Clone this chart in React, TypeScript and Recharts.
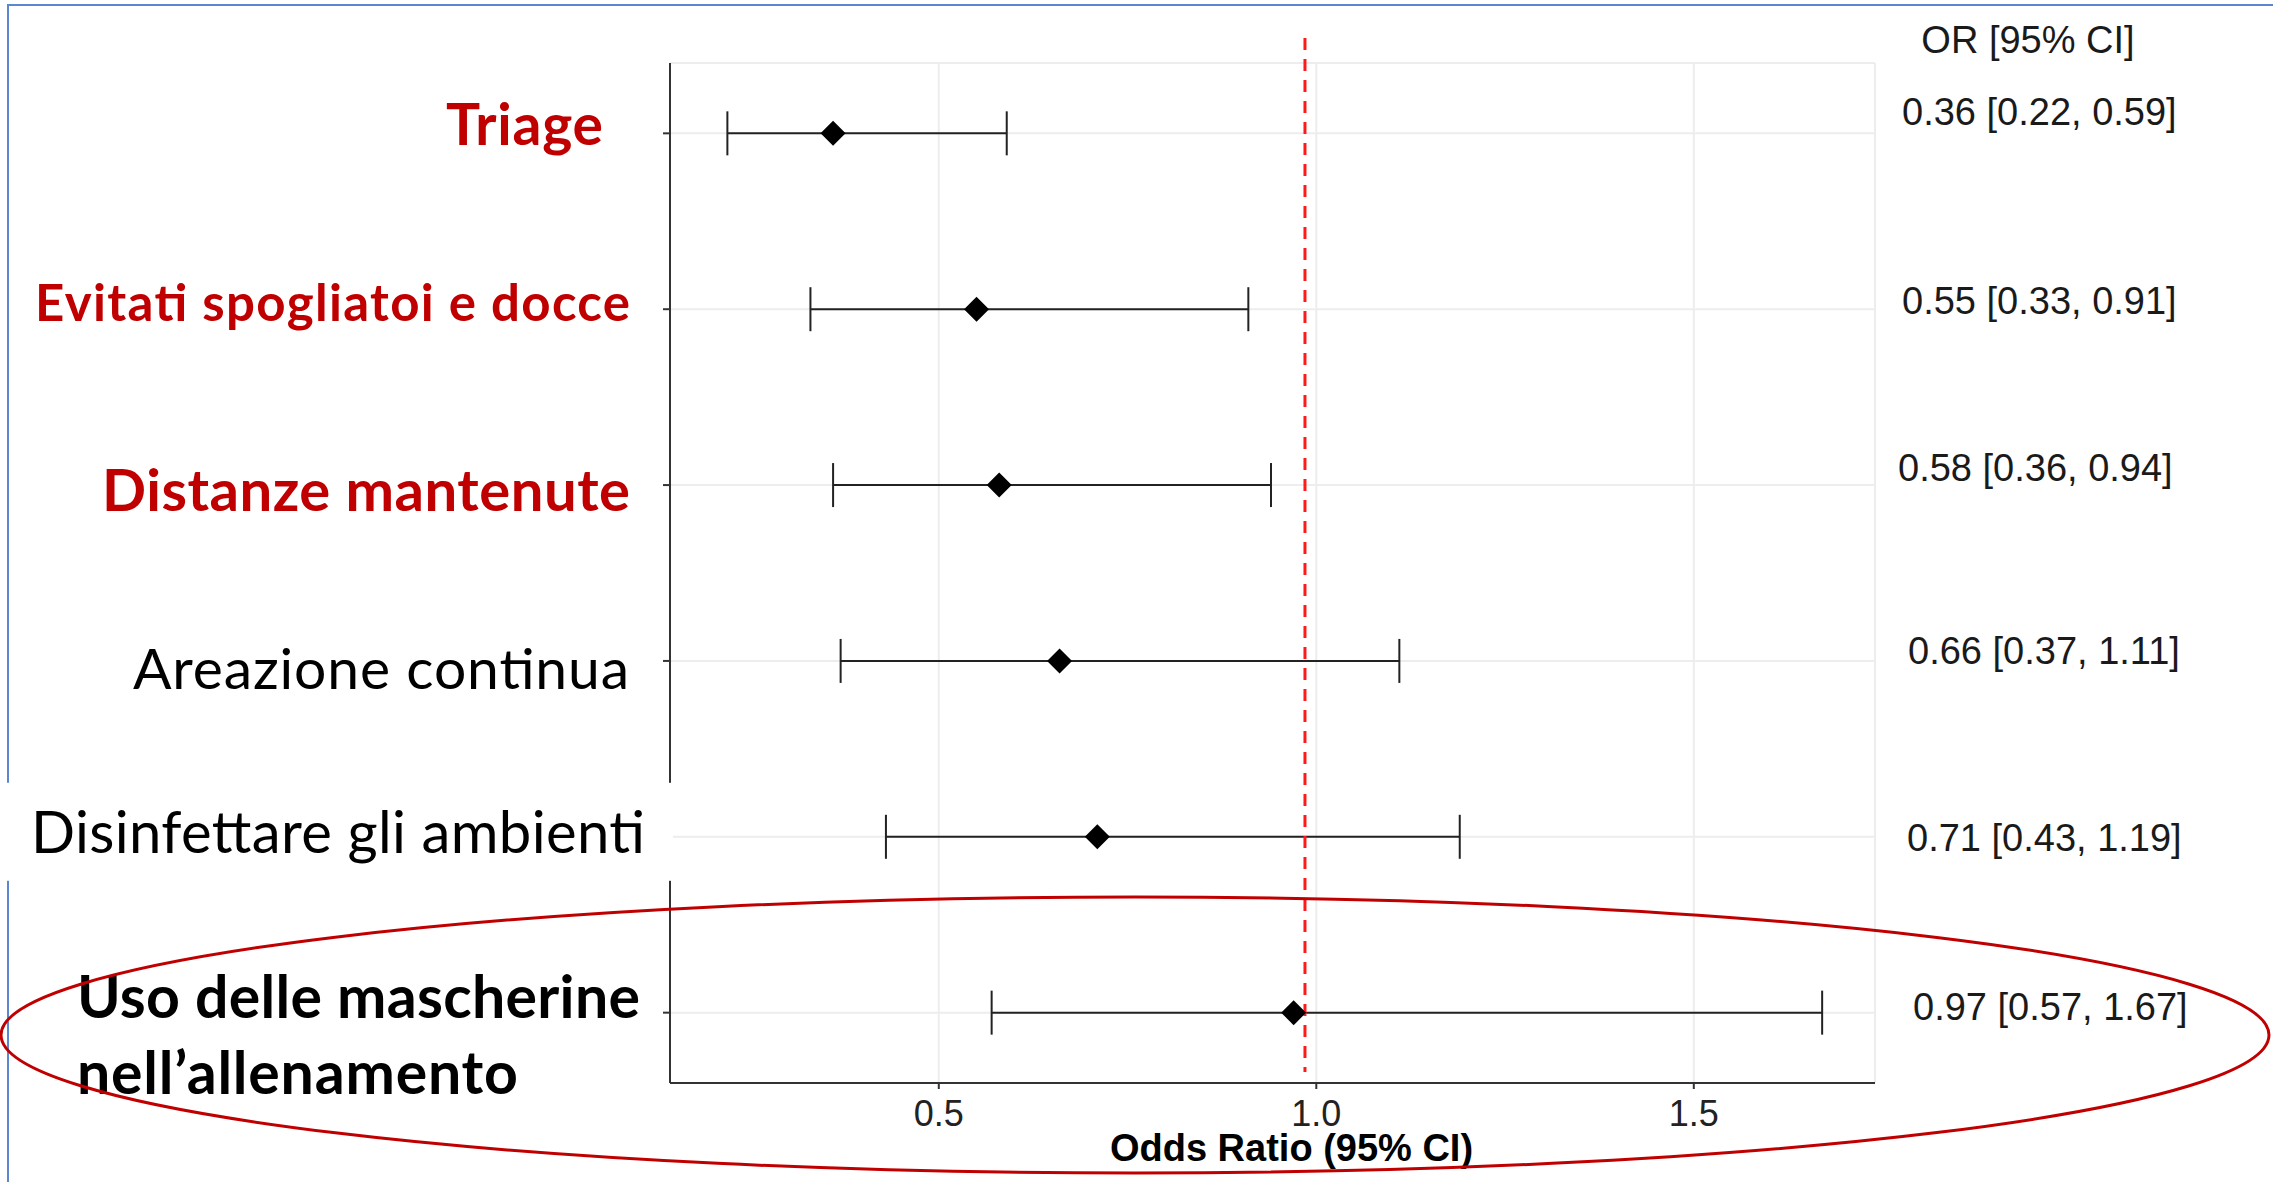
// Forest plot: odds ratio with 95% CI per preventive measure.
import React from 'react';
import { ScatterChart, Scatter, XAxis, YAxis, CartesianGrid, ErrorBar, ReferenceLine, Label } from 'recharts';

const categories = [
  'Triage',
  'Evitati spogliatoi e docce',
  'Distanze mantenute',
  'Areazione continua',
  'Disinfettare gli ambienti',
  'Uso delle mascherine\nnell’allenamento',
];
const oddsRatios = [0.36, 0.55, 0.58, 0.66, 0.71, 0.97];
const ciLower = [0.22, 0.33, 0.36, 0.37, 0.43, 0.57];
const ciUpper = [0.59, 0.91, 0.94, 1.11, 1.19, 1.67];
const xTicks = [0.5, 1.0, 1.5];
const rowTicks = [1, 2, 3, 4, 5, 6];
const nullLine = 0.985;

const W = 2273;
const H = 1182;

const rows = categories.map((name, i) => ({
  row: i + 1,
  name,
  or: oddsRatios[i],
  lo: ciLower[i],
  hi: ciUpper[i],
  err: [oddsRatios[i] - ciLower[i], ciUpper[i] - oddsRatios[i]],
}));

// per-row look of the left labels (x = end of text, or start when anchor is 'start';
// len = rendered width of each line)
const leftLabelStyle = [
  { color: '#C00000', weight: 700, size: 57, x: 603, anchor: 'end', dy: 12, len: [157] },
  { color: '#C00000', weight: 700, size: 51, x: 630, anchor: 'end', dy: 12, len: [595] },
  { color: '#C00000', weight: 700, size: 58, x: 630, anchor: 'end', dy: 26, len: [528] },
  { color: '#000000', weight: 400, size: 57, x: 629, anchor: 'end', dy: 28, len: [496] },
  { color: '#000000', weight: 400, size: 58, x: 645, anchor: 'end', dy: 16, len: [614] },
  { color: '#000000', weight: 700, size: 59, x: 77, anchor: 'start', dy: 5, len: [563, 441] },
];
// right-hand OR text nudges
const orLabelX = [1902, 1902, 1898, 1908, 1907, 1913];
const orLabelDy = [-8, 5, -4, 3, 14, 7];

const LEFT_FONT = 'Lato, "Open Sans", sans-serif';
const ARIAL = '"Liberation Sans", Arial, sans-serif';

const LeftTick = (props: any) => {
  const { y, payload } = props;
  const i = rowTicks.indexOf(payload.value);
  if (i < 0) return null;
  const s = leftLabelStyle[i];
  const lines = categories[i].split('\n');
  return (
    <g>
      {i === 4 && <rect x={0} y={y - 54} width={673} height={98} fill="#ffffff" />}
      {lines.map((ln, k) => (
        <text
          key={k}
          x={s.x}
          y={y + s.dy + k * 76}
          textAnchor={s.anchor}
          fill={s.color}
          fontWeight={s.weight}
          fontSize={s.size}
          fontFamily={LEFT_FONT}
          textLength={s.len[k]}
          lengthAdjust="spacing"
        >
          {ln}
        </text>
      ))}
    </g>
  );
};

const RightTick = (props: any) => {
  const { y, payload } = props;
  const i = rowTicks.indexOf(payload.value);
  if (i < 0) return null;
  const r = rows[i];
  return (
    <text x={orLabelX[i]} y={y + orLabelDy[i]} fontSize={38} fontFamily={ARIAL} fill="#1a1a1a">
      {`${r.or.toFixed(2)} [${r.lo.toFixed(2)}, ${r.hi.toFixed(2)}]`}
    </text>
  );
};

const Diamond = (props: any) => {
  const { cx, cy } = props;
  const r = 12.5;
  return (
    <polygon
      points={`${cx},${cy - r} ${cx + r},${cy} ${cx},${cy + r} ${cx - r},${cy}`}
      fill="#000000"
    />
  );
};

const NullLine = (props: any) => {
  const top = Math.min(props.y1, props.y2);
  const bottom = Math.max(props.y1, props.y2);
  return (
    <line
      x1={props.x1}
      x2={props.x2}
      y1={top - 25}
      y2={bottom - 11}
      stroke="#FF1A1A"
      strokeWidth={3}
      strokeDasharray="12 9"
    />
  );
};

export default function App() {
  return (
    <div style={{ position: 'absolute', left: 0, top: 0, width: W, height: H, background: '#fff', overflow: 'hidden' }}>
      <div
        style={{
          position: 'absolute',
          left: 7,
          top: 4,
          right: -10,
          bottom: -10,
          borderTop: '2px solid #5B86D1',
          borderLeft: '2px solid #5B86D1',
        }}
      />
      <div style={{ position: 'absolute', left: 0, top: 0 }}>
        <ScatterChart width={W} height={H} margin={{ top: 63, right: 0, bottom: 0, left: 0 }}>
          <CartesianGrid stroke="#EDEDED" strokeWidth={2} />
          <XAxis
            type="number"
            dataKey="or"
            domain={[0.144, 1.74]}
            allowDataOverflow
            ticks={xTicks}
            interval={0}
            tickFormatter={(v: number) => v.toFixed(1)}
            height={99}
            tickSize={6}
            tickMargin={11}
            axisLine={{ stroke: '#333', strokeWidth: 2 }}
            tickLine={{ stroke: '#333', strokeWidth: 2 }}
            tick={{ fill: '#222', fontSize: 36, fontFamily: ARIAL }}
          >
            <Label
              content={(p: any) => (
                <text
                  x={p.viewBox.x + p.viewBox.width / 2 + 19}
                  y={1161}
                  textAnchor="middle"
                  fontSize={38}
                  fontWeight={700}
                  fontFamily={ARIAL}
                  fill="#000"
                >
                  Odds Ratio (95% CI)
                </text>
              )}
            />
          </XAxis>
          <YAxis
            type="number"
            dataKey="row"
            domain={[0.6, 6.4]}
            allowDataOverflow
            reversed
            ticks={rowTicks}
            interval={0}
            width={670}
            tickSize={7}
            axisLine={{ stroke: '#333', strokeWidth: 2 }}
            tickLine={{ stroke: '#333', strokeWidth: 2 }}
            tick={<LeftTick />}
          />
          <YAxis
            yAxisId="right"
            orientation="right"
            type="number"
            domain={[0.6, 6.4]}
            allowDataOverflow
            reversed
            ticks={rowTicks}
            interval={0}
            width={398}
            axisLine={false}
            tickLine={false}
            tick={<RightTick />}
          >
            <Label
              content={() => (
                <text x={2028} y={53} textAnchor="middle" fontSize={38} fontFamily={ARIAL} fill="#1a1a1a">
                  OR [95% CI]
                </text>
              )}
            />
          </YAxis>
          <Scatter data={rows} shape={<Diamond />} isAnimationActive={false}>
            <ErrorBar dataKey="err" direction="x" width={22} stroke="#222" strokeWidth={2} isAnimationActive={false} />
          </Scatter>
          <ReferenceLine x={nullLine} ifOverflow="visible" shape={<NullLine />} />
        </ScatterChart>
      </div>
      <svg width={W} height={H} style={{ position: 'absolute', left: 0, top: 0, pointerEvents: 'none' }}>
        <ellipse cx={1135} cy={1035} rx={1134} ry={138} fill="none" stroke="#C00000" strokeWidth={3} />
      </svg>
    </div>
  );
}
